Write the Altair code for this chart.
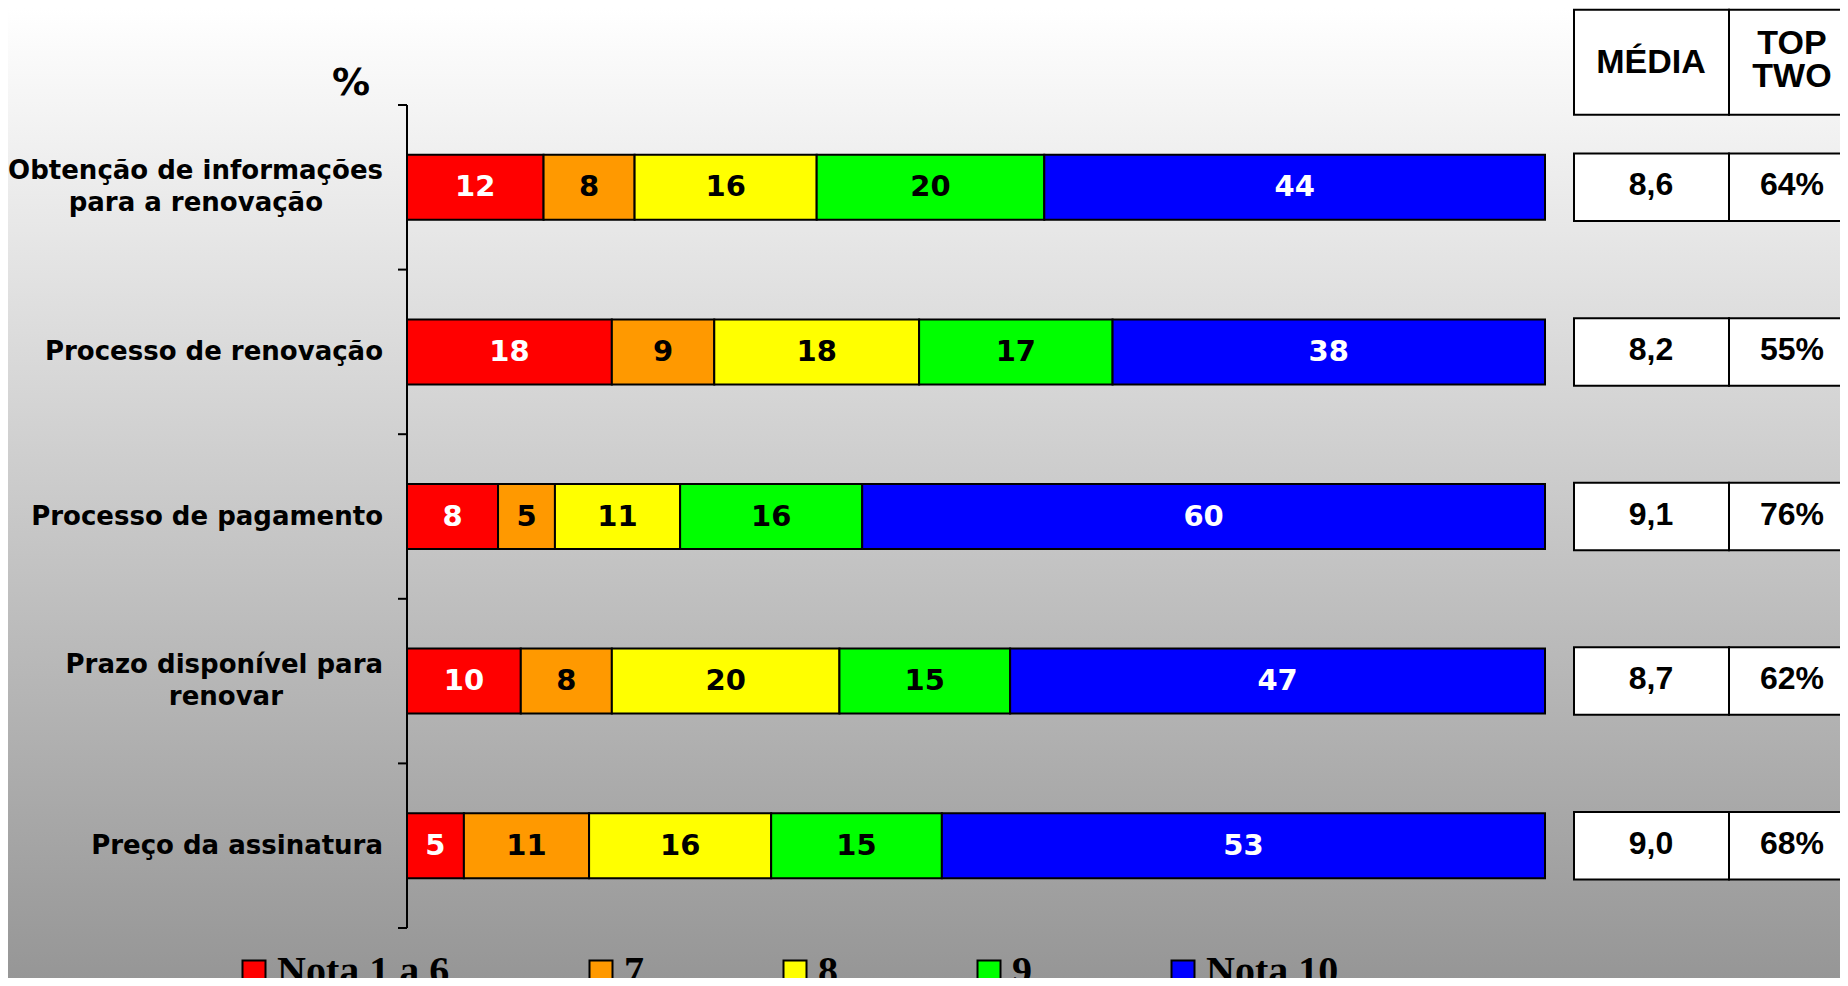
import altair as alt
import pandas as pd

# ---------------- data ----------------
categories = [
    "Obtenção de informações\npara a renovação",
    "Processo de renovação",
    "Processo de pagamento",
    "Prazo disponível para\nrenovar",
    "Preço da assinatura",
]
series = ["Nota 1 a 6", "7", "8", "9", "Nota 10"]
nota_1_a_6 = [12, 18, 8, 10, 5]
nota_7 = [8, 9, 5, 8, 11]
nota_8 = [16, 18, 11, 20, 16]
nota_9 = [20, 17, 16, 15, 15]
nota_10 = [44, 38, 60, 47, 53]
media = [8.6, 8.2, 9.1, 8.7, 9.0]
top_two = [64, 55, 76, 62, 68]
table_columns = ["MÉDIA", "TOP TWO"]
table_headers = ["MÉDIA", "TOP\nTWO"]
axis_title = "%"
colors = ["#FF0000", "#FF9900", "#FFFF00", "#00FF00", "#0000FF"]
white_text_series = ["Nota 1 a 6", "Nota 10"]

values_by_series = [nota_1_a_6, nota_7, nota_8, nota_9, nota_10]
rows = []
for si, (s, vals) in enumerate(zip(series, values_by_series)):
    for c, v in zip(categories, vals):
        rows.append({"cat": c, "series": s, "order": si, "value": v})
bars_df = pd.DataFrame(rows)

table_rows = []
for c, m, t in zip(categories, media, top_two):
    table_rows.append({"cat": c, "col": table_columns[0], "text": f"{m:.1f}".replace(".", ",")})
    table_rows.append({"cat": c, "col": table_columns[1], "text": f"{t}%"})
table_df = pd.DataFrame(table_rows)
header_df = pd.DataFrame({"col": table_columns, "text": table_headers})

label_rows = []
for c in categories:
    lines = c.split("\n")
    for i, ln in enumerate(lines):
        label_rows.append({"cat": c, "text": ln, "line": i, "n": len(lines)})
label_df = pd.DataFrame(label_rows)
cat_df = pd.DataFrame({"cat": categories})

# ---------------- layout / style ----------------
W, H = 1433, 823
PAD_L, PAD_T, PAD_R, PAD_B = 399, 97, 0, 50
BAR_SPAN = 1138
TICK = 9
LABEL_GAP = 24
LINE_HALF = 16
second_line_shift = {categories[0]: 60, categories[3]: 100}  # centre 2nd line under 1st
LABEL_FONT = dict(font="DejaVu Sans", fontSize=26, fontWeight="bold", color="black")

x_scale = alt.Scale(domain=[0, 100], range=[0, BAR_SPAN], nice=False, zero=True)
y_scale = alt.Scale(domain=categories, paddingInner=0, paddingOuter=0)
tab_band = alt.Scale(type="band", domain=table_columns, range=[1167, 1477],
                     paddingInner=0, paddingOuter=0)
tab_point = alt.Scale(type="point", domain=table_columns, range=[1244, 1385], padding=0)


def ycat(**kw):
    return alt.Y("cat:N", scale=y_scale, axis=None, **kw)


bg = alt.Chart(alt.Data(values=[{}])).mark_rect(
    fill=alt.Gradient(
        gradient="linear",
        stops=[alt.GradientStop(color="#ffffff", offset=0),
               alt.GradientStop(color="#969696", offset=1)],
        x1=0, x2=0, y1=0, y2=1,
    ),
    strokeWidth=0,
).encode(x=alt.value(-PAD_L), x2=alt.value(W + PAD_R),
         y=alt.value(-PAD_T), y2=alt.value(H + PAD_B))

stacked = alt.Chart(bars_df).transform_stack(
    stack="value", groupby=["cat"], as_=["v0", "v1"],
    sort=[alt.SortField("order", order="ascending")],
)

bars = stacked.mark_bar(height={"band": 0.395}, stroke="black", strokeWidth=2).encode(
    x=alt.X("v0:Q", scale=x_scale, axis=None),
    x2="v1:Q",
    y=ycat(),
    color=alt.Color(
        "series:N",
        scale=alt.Scale(domain=series, range=colors),
        legend=alt.Legend(
            title=None, orient="none", legendX=-173, legendY=847,
            direction="horizontal", columns=5, symbolType="square",
            symbolSize=529, symbolStrokeColor="black", symbolStrokeWidth=2,
            symbolOpacity=1, labelFont="Liberation Serif", labelFontSize=40,
            labelFontWeight="bold", labelColor="black", labelOffset=3,
            columnPadding=131, labelLimit=500, padding=0,
        ),
    ),
)

bar_text = stacked.transform_calculate(mid="(datum.v0 + datum.v1) / 2").mark_text(
    font="DejaVu Sans", fontSize=29, fontWeight="bold", baseline="middle"
).encode(
    x=alt.X("mid:Q", scale=x_scale, axis=None),
    y=ycat(),
    text="value:Q",
    color=alt.condition(
        alt.FieldOneOfPredicate(field="series", oneOf=white_text_series),
        alt.value("white"), alt.value("black"),
    ),
)

# ---- category axis (drawn as marks so it sits above the gradient) ----
axis_domain = alt.Chart(alt.Data(values=[{}])).mark_rule(
    color="black", strokeWidth=2
).encode(x=alt.value(0), y=alt.value(0), y2=alt.value(H))

axis_ticks = alt.Chart(cat_df).mark_rule(color="black", strokeWidth=2).encode(
    y=ycat(bandPosition=0), x=alt.value(-TICK), x2=alt.value(0)
)
axis_tick_end = alt.Chart(cat_df).transform_filter(
    alt.FieldEqualPredicate(field="cat", equal=categories[-1])
).mark_rule(color="black", strokeWidth=2).encode(
    y=ycat(bandPosition=1), x=alt.value(-TICK), x2=alt.value(0)
)

label_base = alt.Chart(label_df)
labels_single = label_base.transform_filter("datum.n == 1").mark_text(
    align="right", baseline="middle", **LABEL_FONT
).encode(y=ycat(), x=alt.value(-LABEL_GAP), text="text:N")
labels_first = label_base.transform_filter("datum.n == 2 && datum.line == 0").mark_text(
    align="right", baseline="middle", yOffset=-LINE_HALF, **LABEL_FONT
).encode(y=ycat(), x=alt.value(-LABEL_GAP), text="text:N")
labels_second = []
for c, shift in second_line_shift.items():
    labels_second.append(
        label_base.transform_filter(
            alt.FieldEqualPredicate(field="cat", equal=c)
        ).transform_filter("datum.line == 1").mark_text(
            align="right", baseline="middle", yOffset=LINE_HALF, dx=-shift, **LABEL_FONT
        ).encode(y=ycat(), x=alt.value(-LABEL_GAP), text="text:N")
    )

title_mark = alt.Chart(alt.Data(values=[{"t": axis_title}])).mark_text(
    font="DejaVu Sans", fontSize=38, fontWeight="bold", color="black",
    align="center", baseline="middle",
).encode(x=alt.value(-56), y=alt.value(-21), text="t:N")

# ---- side table ----
table_rect = alt.Chart(table_df).mark_rect(
    height={"band": 0.41}, fill="white", stroke="black", strokeWidth=2
).encode(
    x=alt.X("col:N", scale=tab_band, axis=None),
    y=ycat(),
)

table_text = alt.Chart(table_df).mark_text(
    font="Liberation Sans", fontSize=32, fontWeight="bold", color="black",
    baseline="middle", dy=-2,
).encode(
    x=alt.X("col:N", scale=tab_point, axis=None),
    y=ycat(),
    text="text:N",
)

header_y = alt.YDatum(categories[0], axis=None)

header_rect = alt.Chart(header_df).mark_rect(
    height=105, yOffset=-125, fill="white", stroke="black", strokeWidth=2
).encode(
    x=alt.X("col:N", scale=tab_band, axis=None),
    y=header_y,
)

header_base = alt.Chart(header_df)
header_text_1 = header_base.transform_filter(
    alt.FieldEqualPredicate(field="col", equal=table_columns[0])
).mark_text(
    font="Liberation Sans", fontSize=34, fontWeight="bold", color="black",
    baseline="middle", yOffset=-124,
).encode(
    x=alt.X("col:N", scale=tab_point, axis=None),
    y=header_y,
    text="text:N",
)
header_text_2 = header_base.transform_filter(
    alt.FieldEqualPredicate(field="col", equal=table_columns[1])
).mark_text(
    font="Liberation Sans", fontSize=34, fontWeight="bold", color="black",
    baseline="middle", lineBreak="\n", lineHeight=33, yOffset=-143,
).encode(
    x=alt.X("col:N", scale=tab_point, axis=None),
    y=header_y,
    text="text:N",
)

chart = alt.layer(
    bg, bars, bar_text, axis_domain, axis_ticks, axis_tick_end,
    labels_single, labels_first, *labels_second, title_mark,
    table_rect, table_text, header_rect, header_text_1, header_text_2,
).resolve_scale(x="independent").properties(
    width=W, height=H,
    padding={"left": PAD_L, "top": PAD_T, "right": PAD_R, "bottom": PAD_B},
    autosize=alt.AutoSizeParams(type="none"),
).configure_view(stroke=None)

chart.save("out.html", embed_options={"renderer": "svg", "actions": False})
